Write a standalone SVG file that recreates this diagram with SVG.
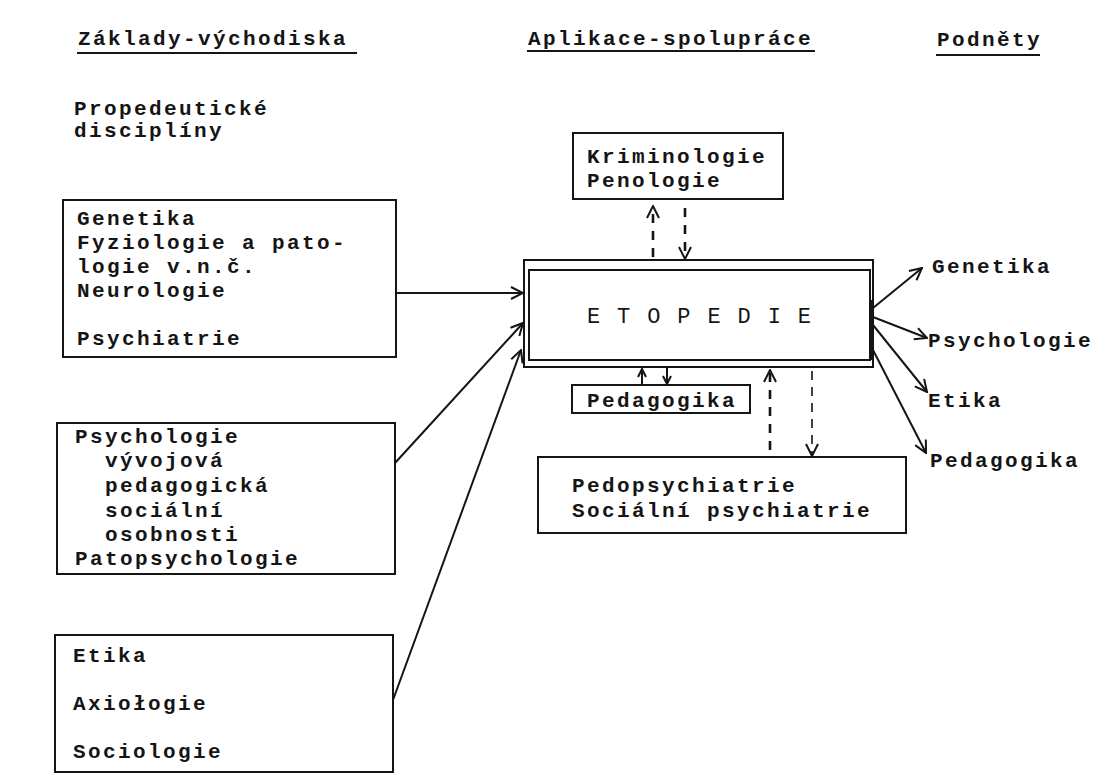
<svg xmlns="http://www.w3.org/2000/svg" width="1110" height="780" viewBox="0 0 1110 780">
<style>
.t{font-family:"Liberation Mono","Courier New",monospace;font-size:21px;letter-spacing:2.4px;font-weight:bold;fill:#151515}
.e{font-family:"Liberation Mono","Courier New",monospace;font-size:22px;fill:#151515}
.box{fill:none;stroke:#151515;stroke-width:2}
.ln{fill:none;stroke:#151515;stroke-width:2}
.ul{stroke:#151515;stroke-width:2}
.dh{fill:none;stroke:#151515;stroke-width:2.6;stroke-dasharray:9 8}
.dt{fill:none;stroke:#151515;stroke-width:1.6;stroke-dasharray:9 7}
</style>
<defs>
<marker id="ah" viewBox="0 0 14 14" refX="13" refY="7" markerWidth="14" markerHeight="14" markerUnits="userSpaceOnUse" orient="auto">
<path d="M1,1 L13,7 L1,13" fill="none" stroke="#151515" stroke-width="2"/>
</marker>
<marker id="as" viewBox="0 0 10 10" refX="9" refY="5" markerWidth="10" markerHeight="10" markerUnits="userSpaceOnUse" orient="auto">
<path d="M1,1 L9,5 L1,9" fill="none" stroke="#151515" stroke-width="2"/>
</marker>
</defs>
<rect width="1110" height="780" fill="#ffffff"/>

<g id="header-zaklady">
<text class="t" x="78" y="45">Základy-východiska</text>
<line class="ul" x1="77" y1="53" x2="357" y2="53"/>
</g>
<g id="header-aplikace">
<text class="t" x="528" y="45">Aplikace-spolupráce</text>
<line class="ul" x1="527" y1="51" x2="815" y2="51"/>
</g>
<g id="header-podnety">
<text class="t" x="937" y="46">Podněty</text>
<line class="ul" x1="936" y1="55" x2="1040" y2="55"/>
</g>

<g id="propedeuticke">
<text class="t" x="74" y="115">Propedeutické</text>
<text class="t" x="74" y="137">disciplíny</text>
</g>

<g id="box-genetika">
<rect class="box" x="63" y="200" width="333" height="157"/>
<text class="t" x="77" y="225">Genetika</text>
<text class="t" x="77" y="249">Fyziologie a pato-</text>
<text class="t" x="77" y="273">logie v.n.č.</text>
<text class="t" x="77" y="297">Neurologie</text>
<text class="t" x="77" y="345">Psychiatrie</text>
</g>

<g id="box-psychologie">
<rect class="box" x="57" y="423" width="338" height="151"/>
<text class="t" x="75" y="443">Psychologie</text>
<text class="t" x="105" y="467">vývojová</text>
<text class="t" x="105" y="492">pedagogická</text>
<text class="t" x="105" y="517">sociální</text>
<text class="t" x="105" y="541">osobnosti</text>
<text class="t" x="75" y="565">Patopsychologie</text>
</g>

<g id="box-etika">
<rect class="box" x="55" y="635" width="338" height="137"/>
<text class="t" x="73" y="662">Etika</text>
<text class="t" x="73" y="710">Axiołogie</text>
<text class="t" x="73" y="758">Sociologie</text>
</g>

<g id="kriminologie">
<rect class="box" x="573" y="133" width="210" height="66"/>
<text class="t" x="587" y="163">Kriminologie</text>
<text class="t" x="587" y="187">Penologie</text>
</g>

<g id="etopedie">
<rect class="box" x="524" y="260" width="349" height="107"/>
<rect class="box" x="529" y="270" width="341" height="90"/>
<line class="ln" x1="871" y1="300" x2="871" y2="360" stroke-width="4"/>
<text class="e" x="587" y="323" textLength="224" lengthAdjust="spacing">E T O P E D I E</text>
</g>

<g id="pedagogika">
<rect class="box" x="572" y="385" width="178" height="28"/>
<text class="t" x="587" y="407">Pedagogika</text>
</g>

<g id="pedopsychiatrie">
<rect class="box" x="538" y="457" width="368" height="76"/>
<text class="t" x="572" y="492">Pedopsychiatrie</text>
<text class="t" x="572" y="517">Sociální psychiatrie</text>
</g>

<g id="target-genetika"><text class="t" x="932" y="273">Genetika</text></g>
<g id="target-psychologie"><text class="t" x="928" y="347">Psychologie</text></g>
<g id="target-etika"><text class="t" x="928" y="407">Etika</text></g>
<g id="target-pedagogika"><text class="t" x="930" y="467">Pedagogika</text></g>

<g id="connectors">
<line class="ln" x1="396" y1="293" x2="523" y2="293" marker-end="url(#ah)"/>
<line class="ln" x1="395" y1="463" x2="523" y2="323" marker-end="url(#ah)"/>
<line class="ln" x1="393" y1="700" x2="521" y2="350" marker-end="url(#ah)"/>

<line class="dh" x1="653" y1="257" x2="653" y2="206" marker-end="url(#ah)"/>
<line class="dh" x1="685" y1="208" x2="685" y2="259" marker-end="url(#ah)"/>

<line class="ln" x1="642" y1="384" x2="642" y2="369" marker-end="url(#as)"/>
<line class="ln" x1="667" y1="368" x2="667" y2="384" marker-end="url(#as)"/>

<line class="dh" x1="770" y1="450" x2="770" y2="370" marker-end="url(#ah)"/>
<line class="dt" x1="812" y1="371" x2="812" y2="456" marker-end="url(#ah)"/>

<line class="ln" x1="873" y1="308" x2="922" y2="268" marker-end="url(#ah)"/>
<line class="ln" x1="873" y1="317" x2="927" y2="338" marker-end="url(#ah)"/>
<line class="ln" x1="873" y1="325" x2="927" y2="392" marker-end="url(#ah)"/>
<line class="ln" x1="873" y1="350" x2="926" y2="453" marker-end="url(#ah)"/>
</g>
</svg>
